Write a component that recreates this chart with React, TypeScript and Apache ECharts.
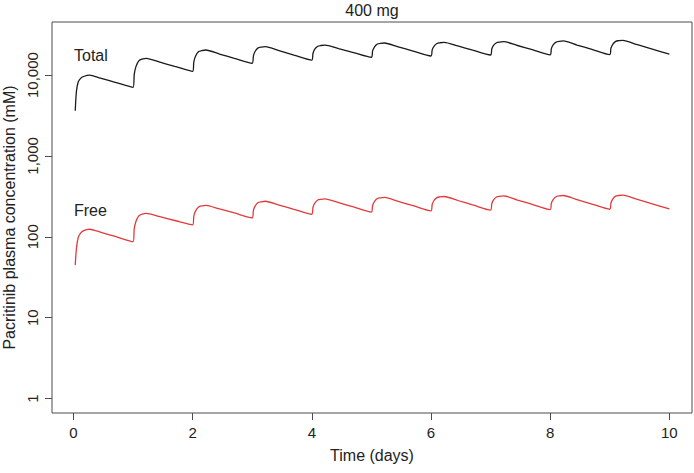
import React, { useEffect, useRef } from "react";
import * as echarts from "echarts";

const titleText = "400 mg";
const xAxisName = "Time (days)";
const yAxisName = "Pacritinib plasma concentration (mM)";
const xTicks = [0, 2, 4, 6, 8, 10];
const yTicks = [1, 10, 100, 1000, 10000];

const time = [
  0.03, 0.05, 0.08, 0.12, 0.17, 0.27, 0.45, 0.7,
  1.0, 1.02, 1.05, 1.1, 1.15, 1.22, 1.45, 1.7,
  2.0, 2.02, 2.05, 2.1, 2.15, 2.22, 2.45, 2.7,
  3.0, 3.02, 3.05, 3.1, 3.15, 3.22, 3.45, 3.7,
  4.0, 4.02, 4.05, 4.1, 4.15, 4.22, 4.45, 4.7,
  5.0, 5.02, 5.05, 5.1, 5.15, 5.22, 5.45, 5.7,
  6.0, 6.02, 6.05, 6.1, 6.15, 6.22, 6.45, 6.7,
  7.0, 7.02, 7.05, 7.1, 7.15, 7.22, 7.45, 7.7,
  8.0, 8.02, 8.05, 8.1, 8.15, 8.22, 8.45, 8.7,
  9.0, 9.02, 9.05, 9.1, 9.15, 9.22, 9.45, 9.7,
  10.0,
];

const totalConc = [
  3610, 6300, 8200, 9100, 9600, 10000, 9170, 8130,
  7040, 10200, 12800, 15100, 15700, 16100, 14450, 12800,
  11100, 14600, 17200, 19500, 20000, 20400, 18200, 16100,
  14000, 17300, 19700, 21700, 22200, 22500, 20100, 17700,
  15300, 18600, 20900, 22700, 23200, 23500, 21200, 19000,
  16600, 19900, 22200, 24200, 24700, 24900, 22300, 19800,
  17200, 20500, 22700, 24600, 25100, 25400, 22900, 20300,
  17700, 21000, 23300, 25100, 25600, 25900, 23200, 20600,
  17800, 21200, 23600, 25500, 26100, 26400, 23500, 20800,
  17900, 21500, 24000, 26100, 26600, 26900, 23900, 21100,
  18100,
];

const freeConc = [
  44.6, 72, 98, 111, 119, 124, 114, 101,
  87, 125, 156, 183, 190, 195, 177, 159,
  140, 180, 209, 234, 241, 245, 221, 197,
  172, 212, 241, 265, 271, 275, 247, 219,
  190, 232, 261, 285, 291, 295, 264, 234,
  202, 244, 273, 297, 303, 307, 274, 242,
  209, 251, 281, 305, 311, 315, 281, 248,
  214, 256, 286, 310, 316, 320, 285, 252,
  217, 260, 289, 313, 320, 324, 288, 254,
  219, 262, 293, 318, 324, 328, 292, 257,
  221,
];

const FONT = "'Liberation Sans', Arial, Helvetica, sans-serif";
const AXIS_COLOR = "#4d4d4d";
const TEXT_COLOR = "#222";

export default function App() {
  const ref = useRef<HTMLDivElement>(null);

  useEffect(() => {
    if (!ref.current) return;
    const chart = echarts.init(ref.current, undefined, { renderer: "svg" });
    const pairs = (ys: number[]) => time.map((t, i) => [t, ys[i]]);

    chart.setOption({
      animation: false,
      backgroundColor: "#fff",
      textStyle: { fontFamily: FONT },
      grid: {
        left: 52,
        right: 2,
        top: 22,
        bottom: 60,
        show: true,
        borderColor: AXIS_COLOR,
        borderWidth: 1,
        containLabel: false,
        outerBoundsMode: "none",
      },
      graphic: [
        {
          type: "text",
          x: 372,
          y: 10,
          style: {
            text: titleText,
            fill: TEXT_COLOR,
            font: `16px ${FONT}`,
            align: "center",
            verticalAlign: "middle",
          },
        },
        {
          type: "text",
          x: 74,
          y: 55,
          style: {
            text: "Total",
            fill: TEXT_COLOR,
            font: `16px ${FONT}`,
            align: "left",
            verticalAlign: "middle",
          },
        },
        {
          type: "text",
          x: 74,
          y: 210,
          style: {
            text: "Free",
            fill: TEXT_COLOR,
            font: `16px ${FONT}`,
            align: "left",
            verticalAlign: "middle",
          },
        },
      ],
      xAxis: {
        type: "value",
        min: -0.36,
        max: 10.38,
        name: xAxisName,
        nameLocation: "middle",
        nameGap: 34,
        nameTextStyle: { fontSize: 16, color: TEXT_COLOR, fontFamily: FONT },
        axisLine: { show: false, onZero: false },
        splitLine: { show: false },
        axisTick: {
          show: true,
          inside: false,
          length: 7,
          customValues: xTicks,
          lineStyle: { color: AXIS_COLOR, width: 1 },
        },
        axisLabel: {
          customValues: xTicks,
          margin: 12,
          fontSize: 15,
          color: TEXT_COLOR,
          fontFamily: FONT,
          formatter: (v: number) => String(Math.round(v)),
        },
      },
      yAxis: {
        type: "log",
        logBase: 10,
        min: 0.662,
        max: 45300,
        name: yAxisName,
        nameLocation: "middle",
        nameGap: 35,
        nameTextStyle: { fontSize: 16, color: TEXT_COLOR, fontFamily: FONT },
        axisLine: { show: false, onZero: false },
        splitLine: { show: false },
        minorTick: { show: false },
        axisTick: {
          show: true,
          inside: false,
          length: 7,
          customValues: yTicks,
          lineStyle: { color: AXIS_COLOR, width: 1 },
        },
        axisLabel: {
          customValues: yTicks,
          rotate: 90,
          margin: 12,
          fontSize: 15,
          color: TEXT_COLOR,
          fontFamily: FONT,
          formatter: (v: number) => Math.round(v).toLocaleString("en-US"),
        },
      },
      series: [
        {
          name: "Total",
          type: "line",
          data: pairs(totalConc),
          showSymbol: false,
          smooth: 0.25,
          lineStyle: { color: "#1a1a1a", width: 1.3 },
          itemStyle: { color: "#1a1a1a" },
        },
        {
          name: "Free",
          type: "line",
          data: pairs(freeConc),
          showSymbol: false,
          smooth: 0.25,
          lineStyle: { color: "#e23a3a", width: 1.3 },
          itemStyle: { color: "#e23a3a" },
        },
      ],
    });

    return () => chart.dispose();
  }, []);

  return (
    <div
      ref={ref}
      style={{ position: "fixed", left: 0, top: 0, width: 694, height: 473, background: "#fff" }}
    />
  );
}
